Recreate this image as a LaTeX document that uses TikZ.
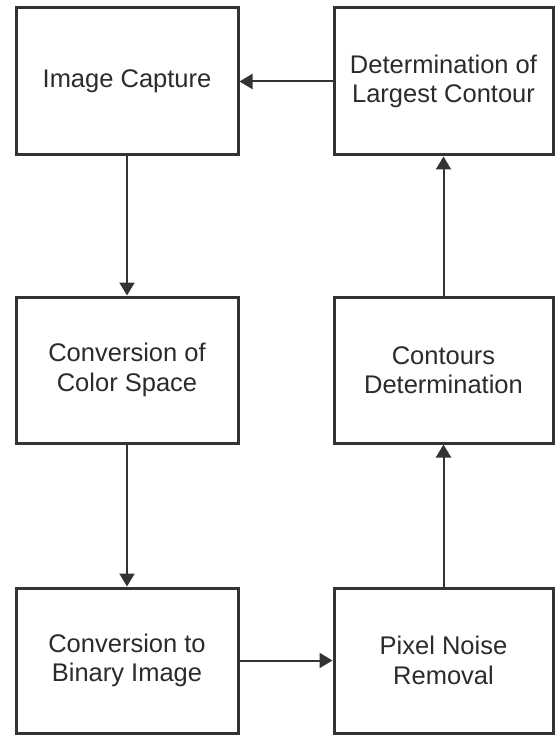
\documentclass[tikz,border=0pt]{standalone}
\usepackage{fontspec}
\setmainfont{Liberation Sans}
\usetikzlibrary{arrows.meta}
\definecolor{lin}{HTML}{333333}
\definecolor{txt}{HTML}{2B2B2B}
\begin{document}
\begin{tikzpicture}[x=1pt,y=-1pt,
  box/.style={draw=lin, line width=3pt, fill=white, text=txt, align=center,
    font=\fontsize{25.5}{29.5}\selectfont, inner sep=0pt},
  conn/.style={draw=lin, line width=2pt, -{Triangle[length=13pt,width=15pt]}}]
\useasboundingbox (0,0) rectangle (555,735);
\fill[white] (0,0) rectangle (555,735);
% left column x 16..238, right 334..553
\node[box, minimum width=222pt, minimum height=147pt] (cap) at (127,81.5) {Image Capture};
\node[box, minimum width=219pt, minimum height=147pt] (lar) at (443.5,81.5) {Determination of\\Largest Contour};
\node[box, minimum width=222pt, minimum height=146pt] (col) at (127,370) {Conversion of\\Color Space};
\node[box, minimum width=219pt, minimum height=146pt] (con) at (443.5,370) {Contours\\Determination};
\node[box, minimum width=222pt, minimum height=145pt] (bin) at (127,660.5) {Conversion to\\Binary Image};
\node[box, minimum width=219pt, minimum height=145pt] (pix) at (443.5,660.5) {Pixel Noise\\Removal};
\draw[conn] (cap) -- (col);
\draw[conn] (col) -- (bin);
\draw[conn] (bin) -- (pix);
\draw[conn] (pix) -- (con);
\draw[conn] (con) -- (lar);
\draw[conn] (lar) -- (cap);
\end{tikzpicture}
\end{document}
